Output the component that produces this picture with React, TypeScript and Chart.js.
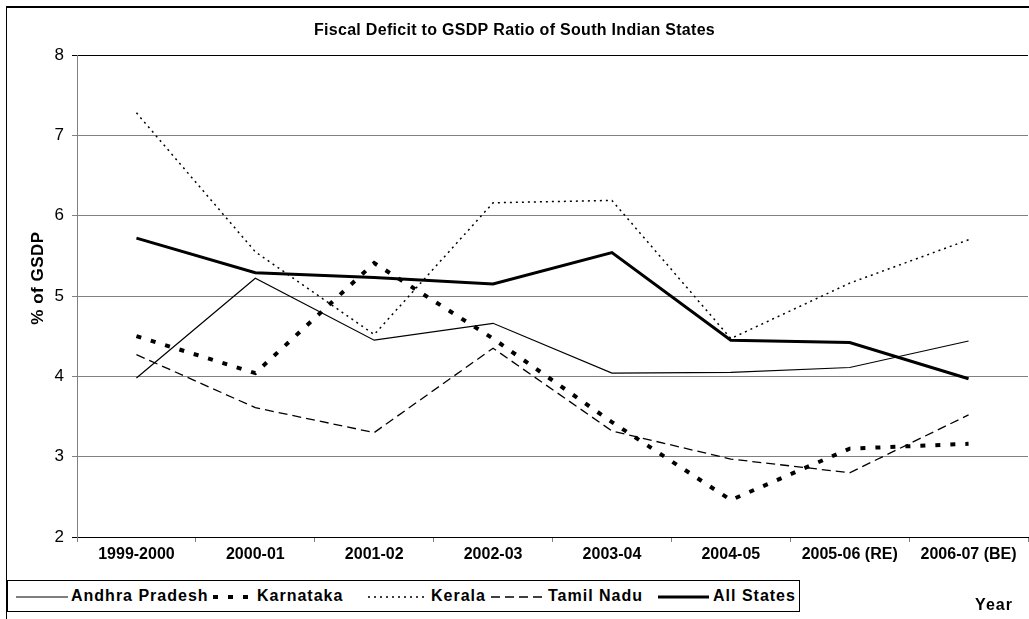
import React, { useEffect, useRef } from 'react';
import { Chart, registerables } from 'chart.js';

Chart.register(...registerables);

// Fiscal deficit as % of GSDP, by year
const years = ['1999-2000', '2000-01', '2001-02', '2002-03', '2003-04', '2004-05', '2005-06 (RE)', '2006-07 (BE)'];
const andhraPradesh = [3.98, 5.22, 4.45, 4.66, 4.04, 4.05, 4.11, 4.44];
const karnataka = [4.5, 4.04, 5.41, 4.47, 3.43, 2.46, 3.1, 3.16];
const kerala = [7.28, 5.55, 4.52, 6.16, 6.19, 4.47, 5.16, 5.7];
const tamilNadu = [4.27, 3.61, 3.3, 4.35, 3.32, 2.97, 2.8, 3.52];
const allStates = [5.72, 5.29, 5.23, 5.15, 5.54, 4.45, 4.42, 3.97];

const yMin = 2;
const yMax = 8;
const yStep = 1;

const TITLE = 'Fiscal Deficit to GSDP Ratio of South Indian States';
const Y_TITLE = '% of GSDP';
const X_TITLE = 'Year';
const FONT = '"Liberation Sans", Arial, Helvetica, sans-serif';

type Style = { width: number; dash: number[]; cap: CanvasLineCap };

const styles: Record<string, Style> = {
  andhra: { width: 1.2, dash: [], cap: 'butt' },
  karnataka: { width: 4, dash: [5, 10], cap: 'butt' },
  kerala: { width: 1.5, dash: [2, 4], cap: 'butt' },
  tamil: { width: 1.3, dash: [9, 5], cap: 'butt' },
  all: { width: 3, dash: [], cap: 'butt' },
};

const series = [
  { label: 'Andhra Pradesh', data: andhraPradesh, style: styles.andhra },
  { label: 'Karnataka', data: karnataka, style: styles.karnataka },
  { label: 'Kerala', data: kerala, style: styles.kerala },
  { label: 'Tamil Nadu', data: tamilNadu, style: styles.tamil },
  { label: 'All States', data: allStates, style: styles.all },
];

// Legend layout: sample line start/end and text start (px)
const legendSlots = [
  { x1: 8, x2: 60, tx: 63 },
  { x1: 205, x2: 245, tx: 249 },
  { x1: 360, x2: 420, tx: 423 },
  { x1: 483, x2: 535, tx: 540 },
  { x1: 650, x2: 701, tx: 705 },
];

const textPlugin = {
  id: 'chartText',
  afterDraw(chart: any) {
    const ctx: CanvasRenderingContext2D = chart.ctx;
    ctx.save();
    ctx.fillStyle = '#000';
    ctx.textAlign = 'center';
    ctx.textBaseline = 'middle';
    (ctx as any).letterSpacing = '0.3px';
    ctx.font = `bold 16px ${FONT}`;
    ctx.fillText(TITLE, chart.width / 2, 31);

    ctx.font = `bold 16px ${FONT}`;
    (ctx as any).letterSpacing = '1px';
    ctx.fillText(X_TITLE, 994, 606);

    ctx.font = `bold 17px ${FONT}`;
    (ctx as any).letterSpacing = '0.5px';
    ctx.translate(38, 278);
    ctx.rotate(-Math.PI / 2);
    ctx.fillText(Y_TITLE, 0, 0);
    ctx.restore();
  },
};

function LegendSample({ style, x1, x2 }: { style: Style; x1: number; x2: number }) {
  return (
    <svg
      width={x2 - x1}
      height={10}
      style={{ position: 'absolute', left: x1, top: 11 }}
    >
      <line
        x1={0}
        y1={5}
        x2={x2 - x1}
        y2={5}
        stroke="#000"
        strokeWidth={style.width}
        strokeDasharray={style.dash.length ? style.dash.join(' ') : undefined}
        strokeLinecap={style.cap}
      />
    </svg>
  );
}

export default function App() {
  const canvasRef = useRef<HTMLCanvasElement | null>(null);

  useEffect(() => {
    const canvas = canvasRef.current;
    if (!canvas) return;
    const chart = new Chart(canvas, {
      type: 'line',
      data: {
        labels: years,
        datasets: series.map((s) => ({
          label: s.label,
          data: s.data,
          borderColor: '#000',
          backgroundColor: '#000',
          borderWidth: s.style.width,
          borderDash: s.style.dash,
          borderCapStyle: s.style.cap,
          borderJoinStyle: 'miter',
          pointRadius: 0,
          pointHoverRadius: 0,
          tension: 0,
          fill: false,
        })),
      },
      options: {
        responsive: false,
        animation: false,
        devicePixelRatio: 1,
        layout: { padding: { top: 55, right: 1, bottom: 0, left: 0 } },
        plugins: {
          legend: { display: false },
          title: { display: false },
          tooltip: { enabled: false },
        },
        scales: {
          x: {
            type: 'category',
            offset: true,
            grid: {
              offset: true,
              drawOnChartArea: false,
              drawTicks: true,
              tickLength: 5,
              color: '#808080',
            },
            border: { color: '#000', width: 1 },
            ticks: {
              color: '#000',
              font: { family: FONT, size: 16, weight: 'bold' },
              padding: 3,
              maxRotation: 0,
              autoSkip: false,
            },
            afterFit: (scale: any) => {
              scale.height = 82;
            },
          },
          y: {
            min: yMin,
            max: yMax,
            ticks: {
              stepSize: yStep,
              color: '#000',
              font: { family: FONT, size: 17 },
              padding: 8,
            },
            grid: {
              color: (c: any) =>
                c.tick && (c.tick.value === yMax || c.tick.value === yMin) ? '#000' : '#808080',
              lineWidth: 1,
              tickLength: 5,
              drawTicks: true,
            },
            border: { color: '#808080', width: 1 },
            afterFit: (scale: any) => {
              scale.width = 77;
            },
          },
        },
      },
      plugins: [textPlugin],
    });
    return () => chart.destroy();
  }, []);

  return (
    <div
      style={{
        position: 'fixed',
        left: 0,
        top: 0,
        width: 1029,
        height: 619,
        overflow: 'hidden',
        background: '#fff',
        fontFamily: FONT,
      }}
    >
      <div
        style={{
          position: 'absolute',
          left: 6,
          top: 6,
          width: 1080,
          height: 680,
          borderLeft: '1.5px solid #000',
          borderTop: '2px solid #000',
        }}
      />
      <canvas
        ref={canvasRef}
        width={1029}
        height={619}
        style={{ position: 'absolute', left: 0, top: 0, width: 1029, height: 619 }}
      />
      <div
        style={{
          position: 'absolute',
          left: 7,
          top: 580,
          width: 793,
          height: 32,
          boxSizing: 'border-box',
          border: '1px solid #000',
          background: '#fff',
        }}
      >
        {series.map((s, i) => (
          <React.Fragment key={s.label}>
            <LegendSample style={s.style} x1={legendSlots[i].x1} x2={legendSlots[i].x2} />
            <span
              style={{
                position: 'absolute',
                left: legendSlots[i].tx,
                top: 6,
                fontSize: 16,
                fontWeight: 'bold',
                letterSpacing: '1px',
                lineHeight: '18px',
                whiteSpace: 'nowrap',
                color: '#000',
              }}
            >
              {s.label}
            </span>
          </React.Fragment>
        ))}
      </div>
    </div>
  );
}
